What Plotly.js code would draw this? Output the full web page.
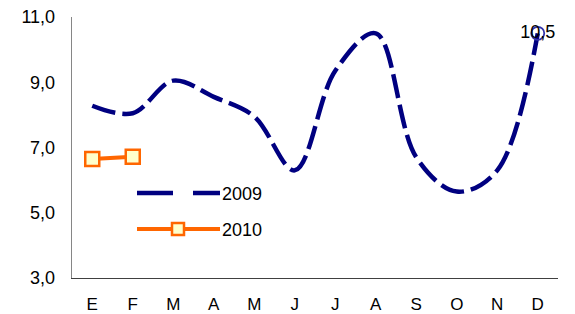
<!DOCTYPE html>
<html>
<head>
<meta charset="utf-8">
<script src="https://cdn.plot.ly/plotly-3.0.1.min.js"></script>
<style>html,body{margin:0;padding:0;background:#fff;}#chart{width:575px;height:314px;}</style>
</head>
<body>
<div id="chart"></div>
<script>
const months = ["E","F","M","A","M ","J","J ","A ","S","O","N","D"];
const monthLabels = ["E","F","M","A","M","J","J","A","S","O","N","D"];
const values2009 = [8.28, 8.05, 9.05, 8.55, 7.95, 6.3, 9.35, 10.5, 6.7, 5.65, 6.3, 10.5];
const months2010 = ["E","F"];
const values2010 = [6.65, 6.72];
const lastLabel = "10,5";
const yTicks = [3, 5, 7, 9, 11];

const fam = "'Liberation Sans', Arial, sans-serif";
const font = {family: fam, size: 18, color: "#000"};
const xfont = {family: fam, size: 17, color: "#000"};

const traces = [
  {x: months, y: values2009, type: "scatter", mode: "lines",
   line: {color: "#000080", width: 4.5, shape: "spline", smoothing: 1, dash: "24px,7px"},
   hoverinfo: "skip"},
  {x: [months[11]], y: [values2009[11]], type: "scatter", mode: "markers+text",
   text: [lastLabel], textposition: "middle center", textfont: font,
   marker: {symbol: "circle-open", size: 13, color: "#3333aa", line: {width: 1.8}},
   hoverinfo: "skip"},
  {x: months2010, y: values2010, type: "scatter", mode: "lines+markers",
   line: {color: "#FF6600", width: 4},
   marker: {symbol: "square", size: 14, color: "#FFFFCC", line: {color: "#FF6600", width: 2.5}},
   hoverinfo: "skip"}
];

const px2x = p => (p - 72) / 486;
const px2y = p => (278 - p) / 261;

const layout = {
  width: 575, height: 314,
  margin: {l: 72, r: 17, t: 17, b: 36},
  paper_bgcolor: "#fff", plot_bgcolor: "#fff",
  showlegend: false,
  separators: ",.",
  font: font,
  xaxis: {
    type: "category", categoryorder: "array", categoryarray: months,
    tickvals: months, ticktext: monthLabels,
    range: [-0.5, 11.5], showgrid: false, zeroline: false,
    showline: true, linecolor: "#404040", linewidth: 1.3,
    ticks: "outside", ticklen: 10, tickcolor: "rgba(0,0,0,0)",
    tickfont: xfont, fixedrange: true
  },
  yaxis: {
    range: [3, 11], tickvals: yTicks, tickformat: ".1f",
    showgrid: false, zeroline: false,
    showline: true, linecolor: "#868686", linewidth: 1.3,
    ticks: "outside", ticklen: 12, tickcolor: "rgba(0,0,0,0)",
    tickfont: font, fixedrange: true
  },
  shapes: [
    {type: "line", xref: "paper", yref: "paper", x0: px2x(137), x1: px2x(220), y0: px2y(193), y1: px2y(193),
     line: {color: "#000080", width: 4.5, dash: "36px,20px"}},
    {type: "line", xref: "paper", yref: "paper", x0: px2x(137), x1: px2x(220), y0: px2y(229), y1: px2y(229),
     line: {color: "#FF6600", width: 4}},
    {type: "rect", xref: "paper", yref: "paper", xsizemode: "pixel", ysizemode: "pixel",
     xanchor: px2x(178), yanchor: px2y(229), x0: -6, x1: 6, y0: -6, y1: 6,
     fillcolor: "#FFFFCC", line: {color: "#FF6600", width: 2.5}}
  ],
  annotations: [
    {xref: "paper", yref: "paper", x: px2x(220), y: px2y(194), xanchor: "left", yanchor: "middle",
     text: "2009", showarrow: false, font: font},
    {xref: "paper", yref: "paper", x: px2x(220), y: px2y(230), xanchor: "left", yanchor: "middle",
     text: "2010", showarrow: false, font: font}
  ]
};

Plotly.newPlot("chart", traces, layout, {staticPlot: true, displayModeBar: false});
</script>
</body>
</html>
